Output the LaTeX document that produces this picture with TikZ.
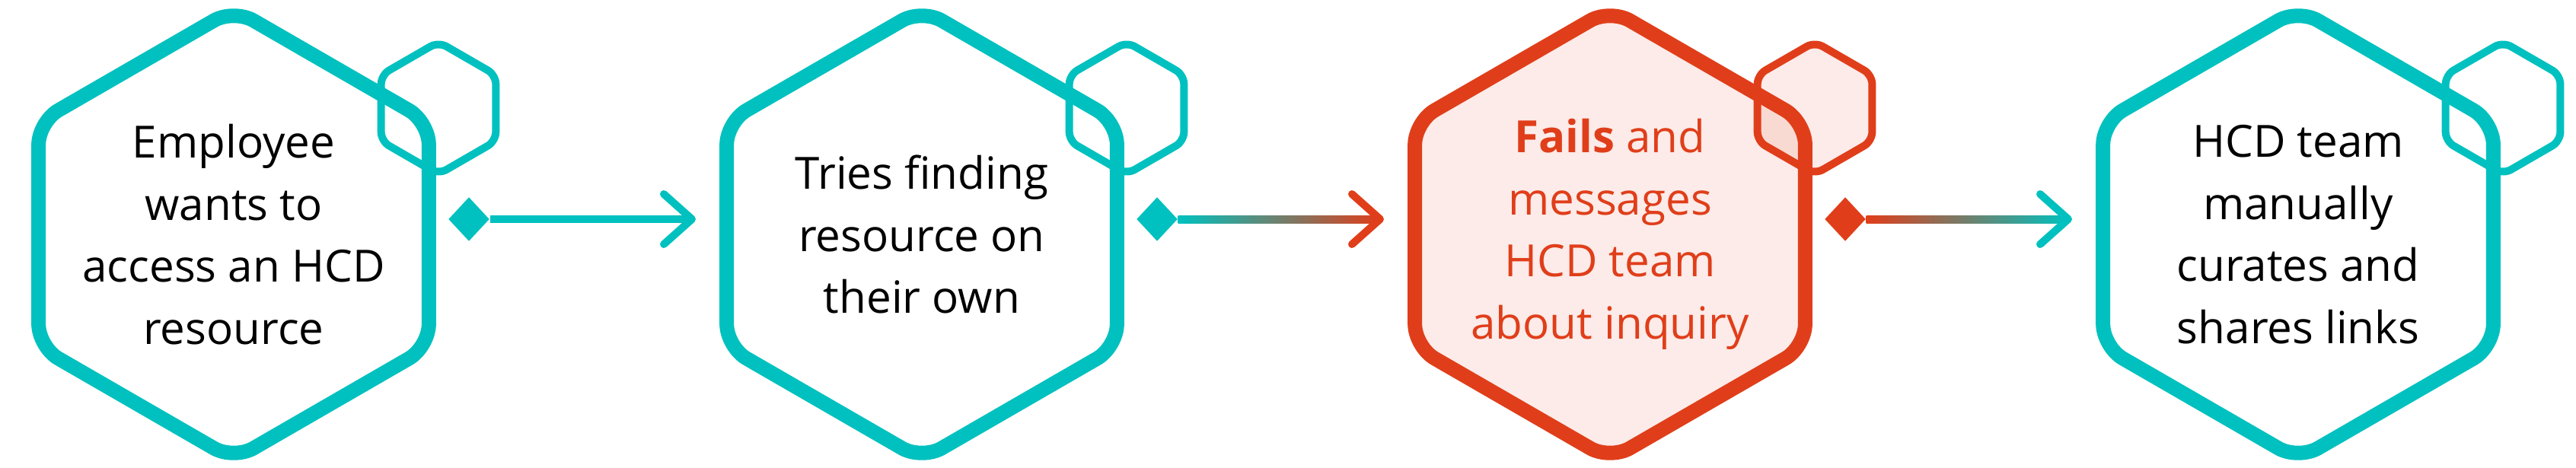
\documentclass[tikz,border=0pt]{standalone}
\usepackage{fontspec}
\setmainfont{Open Sans}
\usepackage{tikz}
\usetikzlibrary{positioning,calc,shapes.geometric}
\definecolor{hexteal}{RGB}{0,193,191}
\definecolor{hexred}{RGB}{224,62,26}
\tikzset{
  bighex/.style={regular polygon, regular polygon sides=6, shape border rotate=90,
                 minimum size=5.92cm, inner sep=0pt, line width=1.9mm, rounded corners=3mm,
                 draw=#1},
  failhex/.style={bighex=hexred, fill=hexred, fill opacity=0.1},
  smallhex/.style={regular polygon, regular polygon sides=6, shape border rotate=90,
                   minimum size=1.74cm, inner sep=0pt, line width=1mm, rounded corners=1.2mm,
                   draw=#1},
  failsmall/.style={smallhex=hexred, fill=hexred, fill opacity=0.1},
  steptext/.style={align=center, inner sep=0pt, font=\fontsize{16.6}{23.2}\selectfont},
  failtext/.style={steptext, text=hexred},
  knob/.style={diamond, fill=#1, minimum width=5.4mm, minimum height=5.8mm, inner sep=0pt},
  barb/.style={line width=1mm, line cap=round, line join=round}
}

\begin{document}
\begin{tikzpicture}
\useasboundingbox (0,0) rectangle (33.84,6.14);
% steps
\node[bighex=hexteal] (h1) at (3.07,3.06) {};
\node[bighex=hexteal] (h2) at ($(h1)+(9.04,0)$) {};
\node[failhex] (h3) at ($(h2)+(9.04,0)$) {};
\node[bighex=hexteal] (h4) at ($(h3)+(9.04,0)$) {};
\node[smallhex=hexteal] (s1) at ($(h1)+(2.69,1.66)$) {};
\node[smallhex=hexteal] (s2) at ($(h2)+(2.69,1.66)$) {};
\node[failsmall] (s3) at ($(h3)+(2.69,1.66)$) {};
\node[smallhex=hexteal] (s4) at ($(h4)+(2.69,1.66)$) {};
\node[steptext] (t1) at (h1) {Employee\\wants to\\access an HCD\\resource};
\node[steptext] (t2) at (h2) {Tries finding\\resource on\\their own};
\node[failtext] (t3) at (h3) {\textbf{Fails} and\\messages\\HCD team\\about inquiry};
\node[steptext] (t4) at (h4) {HCD team\\manually\\curates and\\shares links};
% connectors
\node[knob=hexteal] (k1) at ($(h1)+(3.09,0.2)$) {};
\node[knob=hexteal] (k2) at ($(h2)+(3.09,0.2)$) {};
\node[knob=hexred] (k3) at ($(h3)+(3.09,0.2)$) {};
\coordinate (e1) at ($(h1)+(6.02,0.2)$);
\coordinate (e2) at ($(h2)+(6.02,0.2)$);
\coordinate (e3) at ($(h3)+(6.02,0.2)$);
\fill[hexteal] ($(k1.east)+(0,-0.05)$) rectangle ($(e1)+(0,0.05)$);
\shade[left color=hexteal, right color=hexred] ($(k2.east)+(0,-0.05)$) rectangle ($(e2)+(0,0.05)$);
\shade[left color=hexred, right color=hexteal] ($(k3.east)+(0,-0.05)$) rectangle ($(e3)+(0,0.05)$);
\draw[barb, hexteal] ($(e1)+(-0.37,0.33)$) -- (e1) -- ($(e1)+(-0.37,-0.33)$);
\draw[barb, hexred] ($(e2)+(-0.37,0.33)$) -- (e2) -- ($(e2)+(-0.37,-0.33)$);
\draw[barb, hexteal] ($(e3)+(-0.37,0.33)$) -- (e3) -- ($(e3)+(-0.37,-0.33)$);
\end{tikzpicture}
\end{document}
